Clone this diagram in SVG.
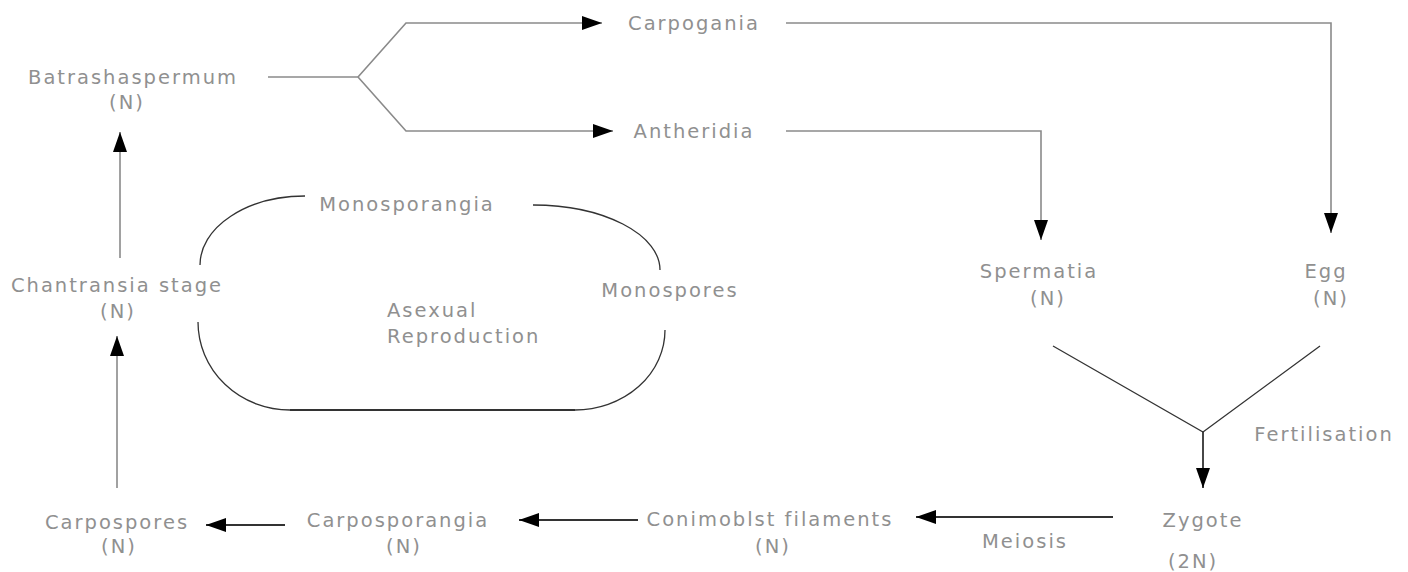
<svg xmlns="http://www.w3.org/2000/svg" width="1408" height="572" viewBox="0 0 1408 572">
<defs>
<style>
text{font-family:"DejaVu Sans","Liberation Sans",sans-serif;font-size:19.5px;fill:#909090;letter-spacing:2px}
.c{text-anchor:middle}
.g{fill:none;stroke:#8a8a8a;stroke-width:1.6}
.d{fill:none;stroke:#333;stroke-width:1.8}
.t{fill:none;stroke:#333;stroke-width:1.3}
</style>
<marker id="ah" markerUnits="userSpaceOnUse" markerWidth="20" markerHeight="16" refX="20" refY="8" orient="auto">
<path d="M0,1 L20,8 L0,15 Z" fill="#000"/>
</marker>
</defs>
<rect width="1408" height="572" fill="#fff"/>
<g id="connectors">
<path class="g" d="M268,77 L358,77"/>
<path class="g" d="M358,77 L406,23 L602,23" marker-end="url(#ah)"/>
<path class="g" d="M358,77 L406,131 L613,131" marker-end="url(#ah)"/>
<path class="g" d="M786,23 L1331,23 L1331,233" marker-end="url(#ah)"/>
<path class="g" d="M786,131 L1041,131 L1041,240" marker-end="url(#ah)"/>
<path class="t" d="M1053,346 L1203,432 L1320,346"/>
<path class="d" d="M1203,432 L1203,488" marker-end="url(#ah)"/>
<path class="d" d="M1113,517 L916,517" marker-end="url(#ah)"/>
<path class="d" d="M638,520 L519,520" marker-end="url(#ah)"/>
<path class="d" d="M285,525 L206,525" marker-end="url(#ah)"/>
<path class="g" d="M117,488 L117,336" marker-end="url(#ah)"/>
<path class="g" d="M120,258 L120,132" marker-end="url(#ah)"/>
<path class="t" d="M305,196 A105,69 0 0 0 200,265"/>
<path class="t" d="M198,322 A92,88 0 0 0 290,410"/>
<path class="d" d="M290,410 L575,410"/>
<path class="t" d="M575,410 A90,80 0 0 0 665,330"/>
<path class="t" d="M533,205 A127,65 0 0 1 660,270"/>
</g>
<g id="batrashaspermum"><text class="c" x="133" y="84">Batrashaspermum</text><text class="c" x="127" y="109">(N)</text></g>
<g id="carpogania"><text class="c" x="694" y="30">Carpogania</text></g>
<g id="antheridia"><text class="c" x="694" y="138">Antheridia</text></g>
<g id="monosporangia"><text class="c" x="407" y="211">Monosporangia</text></g>
<g id="monospores"><text class="c" x="670" y="297">Monospores</text></g>
<g id="asexual"><text x="387" y="317">Asexual</text><text x="387" y="343">Reproduction</text></g>
<g id="chantransia"><text class="c" x="117" y="292">Chantransia stage</text><text class="c" x="118" y="318">(N)</text></g>
<g id="spermatia"><text class="c" x="1039" y="278">Spermatia</text><text class="c" x="1048" y="305">(N)</text></g>
<g id="egg"><text class="c" x="1326" y="278">Egg</text><text class="c" x="1331" y="305">(N)</text></g>
<g id="fertilisation"><text class="c" x="1324" y="441">Fertilisation</text></g>
<g id="zygote"><text class="c" x="1203" y="527">Zygote</text><text class="c" x="1193" y="568">(2N)</text></g>
<g id="meiosis"><text class="c" x="1025" y="548">Meiosis</text></g>
<g id="conimoblst"><text class="c" x="770" y="526">Conimoblst filaments</text><text class="c" x="773" y="553">(N)</text></g>
<g id="carposporangia"><text class="c" x="398" y="527">Carposporangia</text><text class="c" x="404" y="553">(N)</text></g>
<g id="carpospores"><text class="c" x="117" y="529">Carpospores</text><text class="c" x="119" y="553">(N)</text></g>
</svg>
